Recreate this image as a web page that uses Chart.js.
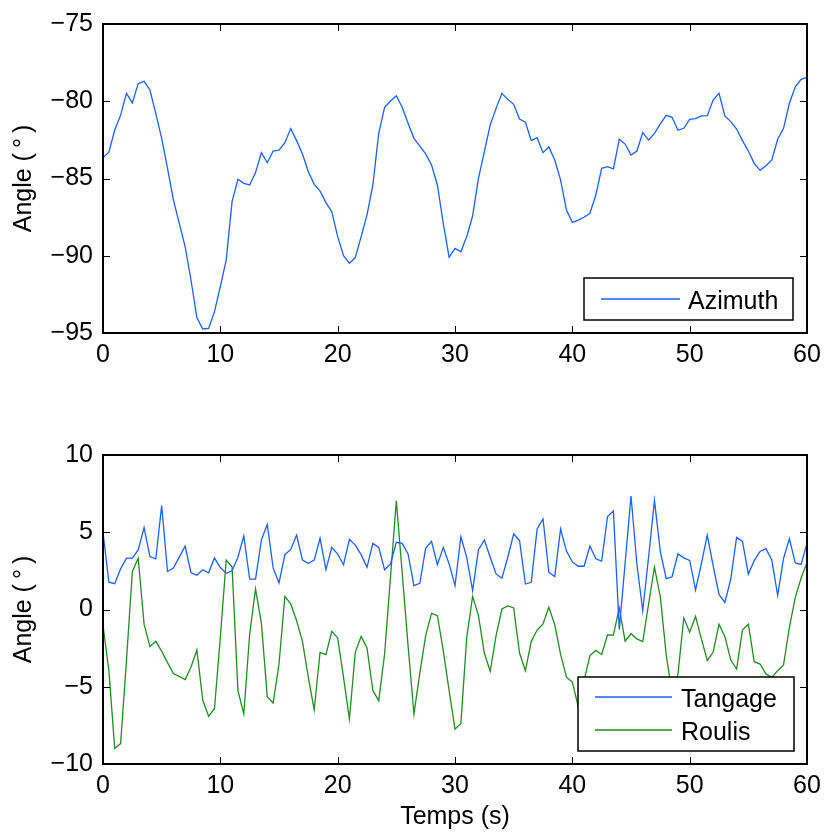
<!DOCTYPE html>
<html><head><meta charset="utf-8">
<script src="https://cdn.jsdelivr.net/npm/chart.js@4.4.0/dist/chart.umd.min.js"></script>
<style>
html,body{margin:0;padding:0;background:#fff;width:824px;height:832px;overflow:hidden}
.c{position:absolute;left:0;width:824px;height:416px}
</style></head><body>
<div class="c" style="top:0"><canvas id="top" width="824" height="416"></canvas></div>
<div class="c" style="top:416px"><canvas id="bot" width="824" height="416"></canvas></div>
<script>
// ---- DATA ----
const time = [0,0.5,1,1.5,2,2.5,3,3.5,4,4.5,5,5.5,6,6.5,7,7.5,8,8.5,9,9.5,
10,10.5,11,11.5,12,12.5,13,13.5,14,14.5,15,15.5,16,16.5,17,17.5,18,18.5,19,19.5,
20,20.5,21,21.5,22,22.5,23,23.5,24,24.5,25,25.5,26,26.5,27,27.5,28,28.5,29,29.5,
30,30.5,31,31.5,32,32.5,33,33.5,34,34.5,35,35.5,36,36.5,37,37.5,38,38.5,39,39.5,
40,40.5,41,41.5,42,42.5,43,43.5,44,44.5,45,45.5,46,46.5,47,47.5,48,48.5,49,49.5,
50,50.5,51,51.5,52,52.5,53,53.5,54,54.5,55,55.5,56,56.5,57,57.5,58,58.5,59,59.5,60];

const azimuth = [-83.65,-83.3,-81.86,-80.9,-79.49,-80.11,-78.86,-78.71,-79.27,-80.8,
-82.4,-84.34,-86.39,-87.9,-89.41,-91.57,-94.0,-94.74,-94.7,-93.62,
-92.0,-90.28,-86.5,-85.05,-85.31,-85.42,-84.62,-83.33,-83.98,-83.22,
-83.16,-82.68,-81.77,-82.55,-83.41,-84.56,-85.38,-85.81,-86.56,-87.15,
-88.76,-89.99,-90.49,-90.12,-88.76,-87.36,-85.42,-82.08,-80.39,-79.98,
-79.64,-80.39,-81.43,-82.4,-82.9,-83.41,-84.13,-85.42,-87.9,-90.1,
-89.52,-89.74,-88.76,-87.43,-84.99,-83.26,-81.54,-80.46,-79.49,-79.88,
-80.2,-81.15,-81.36,-82.55,-82.36,-83.33,-82.96,-83.8,-85.1,-87.04,
-87.84,-87.69,-87.51,-87.25,-86.07,-84.34,-84.23,-84.38,-82.46,-82.77,
-83.48,-83.22,-82.03,-82.51,-82.08,-81.47,-80.91,-81.04,-81.88,-81.75,
-81.17,-81.13,-80.95,-80.93,-79.92,-79.49,-80.95,-81.32,-81.8,-82.55,
-83.22,-84.02,-84.47,-84.17,-83.8,-82.46,-81.75,-80.13,-79.06,-78.58,-78.45];

const tangage = [5.0,1.77,1.67,2.63,3.32,3.33,3.86,5.3,3.43,3.28,
6.72,2.46,2.68,3.39,4.1,2.38,2.22,2.57,2.38,3.33,
2.72,2.34,2.51,3.38,4.76,1.97,1.97,4.5,5.51,2.69,
1.72,3.55,3.89,4.82,3.2,2.99,3.2,4.61,2.58,4.02,
3.59,2.9,4.54,4.17,3.55,2.73,4.28,4.02,2.56,2.95,
4.35,4.28,3.59,1.54,1.69,3.96,4.41,2.9,4.02,2.95,
1.54,4.7,3.38,1.22,3.87,4.5,3.38,2.3,2.02,3.38,
4.89,4.46,1.65,1.76,5.21,5.86,2.41,2.13,5.21,3.78,
3.08,2.8,2.8,4.1,3.28,3.14,6.02,6.38,-1.3,3.0,
7.35,2.96,-0.08,3.4,7.05,3.75,2.0,2.12,3.6,3.34,
3.18,1.27,2.97,4.82,2.84,0.98,0.46,1.97,4.67,4.41,
2.3,3.16,3.76,3.94,3.2,0.92,3.31,4.58,3.01,2.92,4.3];

const roulis = [-1.03,-3.94,-9.0,-8.68,-3.3,2.45,3.33,-0.95,-2.4,-2.06,
-2.7,-3.44,-4.14,-4.33,-4.53,-3.72,-2.62,-5.86,-6.9,-6.42,
-1.8,3.2,2.77,-5.25,-6.76,-1.59,1.33,-0.9,-5.64,-6.05,
-3.53,0.85,0.36,-0.72,-2.06,-4.39,-6.5,-2.77,-2.92,-1.41,
-1.84,-4.39,-7.09,-2.77,-1.74,-2.49,-5.25,-5.9,-2.88,2.08,
7.04,2.36,-2.34,-6.76,-4.13,-1.69,-0.25,-0.4,-2.66,-5.25,
-7.75,-7.37,-1.8,0.85,-0.4,-2.82,-4.0,-1.69,0.03,0.23,
0.1,-2.82,-3.96,-2.06,-1.33,-0.94,0.14,-0.98,-2.9,-4.38,
-4.7,-6.28,-4.6,-2.98,-2.65,-2.91,-1.64,-1.66,0.11,-2.05,
-1.57,-1.9,-2.07,0.37,2.74,0.8,-2.9,-5.5,-4.2,-0.54,
-1.47,-0.45,-1.9,-3.3,-2.77,-0.96,-1.74,-3.27,-3.85,-1.33,
-0.94,-3.38,-3.53,-4.17,-4.39,-3.96,-3.59,-1.15,0.79,2.04,3.05];

const xTickValues = [0,10,20,30,40,50,60];
const topYTicks = [-95,-90,-85,-80,-75];
const botYTicks = [-10,-5,0,5,10];
const labels = { azimuth:'Azimuth', tangage:'Tangage', roulis:'Roulis', x:'Temps (s)', y:'Angle (\u2009°\u2009)' };

// ---- STYLE ----
const FAMILY = "'Liberation Sans', Arial, Helvetica, sans-serif";
const FONT = {family: FAMILY, size: 25};
const BLUE = '#1c5fff', GREEN = '#228b22';

const fmt = v => String(v).replace('-', '\u2212');

const framePlugin = {
  id: 'frame',
  afterDatasetsDraw(chart, args, o) {
    const ctx = chart.ctx, a = chart.chartArea, xs = chart.scales.x, ys = chart.scales.y;
    ctx.save();
    ctx.strokeStyle = '#000';
    ctx.lineWidth = 1;
    ctx.beginPath();
    xs.ticks.forEach(t => {
      const p = Math.round(xs.getPixelForValue(t.value)) + 0.5;
      ctx.moveTo(p, a.bottom); ctx.lineTo(p, a.bottom - 7);
      ctx.moveTo(p, a.top); ctx.lineTo(p, a.top + 7);
    });
    ys.ticks.forEach(t => {
      const p = Math.round(ys.getPixelForValue(t.value)) + 0.5;
      ctx.moveTo(a.left, p); ctx.lineTo(a.left + 7, p);
      ctx.moveTo(a.right, p); ctx.lineTo(a.right - 7, p);
    });
    ctx.stroke();
    ctx.lineWidth = 2;
    ctx.strokeRect(a.left, a.top, a.right - a.left, a.bottom - a.top);
    const L = o.legend;
    ctx.fillStyle = '#fff';
    ctx.fillRect(L.x, L.y, L.w, L.h);
    ctx.lineWidth = 1.5;
    ctx.strokeStyle = '#000';
    ctx.strokeRect(L.x, L.y, L.w, L.h);
    chart.data.datasets.forEach((ds, i) => {
      const ly = L.rows[i];
      ctx.strokeStyle = ds.borderColor; ctx.lineWidth = ds.borderWidth;
      ctx.beginPath(); ctx.moveTo(L.x0, ly); ctx.lineTo(L.x1, ly); ctx.stroke();
      ctx.fillStyle = '#000';
      ctx.font = '25px ' + FAMILY;
      ctx.textBaseline = 'alphabetic';
      ctx.textAlign = 'left';
      ctx.fillText(ds.label, L.tx, ly + 10);
    });
    ctx.restore();
  }
};

function series(label, ys, color) {
  return {
    label, data: time.map((t, i) => ({x: t, y: ys[i]})),
    borderColor: color, borderWidth: 1.3, pointRadius: 0, tension: 0, fill: false
  };
}

function makeChart(id, datasets, yTicks, padTop, xHeight, xTitle, legend) {
  return new Chart(document.getElementById(id), {
    type: 'line',
    data: { datasets },
    plugins: [framePlugin],
    options: {
      responsive: false, animation: false, devicePixelRatio: 1,
      layout: { padding: { left: 0, top: padTop, right: 17, bottom: 0 } },
      plugins: { legend: { display: false }, tooltip: { enabled: false }, frame: { legend } },
      scales: {
        x: {
          type: 'linear', min: xTickValues[0], max: xTickValues[xTickValues.length - 1],
          afterBuildTicks: s => { s.ticks = xTickValues.map(v => ({value: v})); },
          afterFit: s => { s.height = xHeight; s.paddingLeft = 0; s.paddingRight = 0; },
          ticks: { font: FONT, color: '#000', padding: 7, maxRotation: 0, autoSkip: false, callback: v => fmt(v) },
          grid: { display: true, drawOnChartArea: false, drawTicks: false },
          border: { display: false },
          title: { display: !!xTitle, text: xTitle || '', font: FONT, color: '#000', padding: { top: 0, bottom: 0 } }
        },
        y: {
          type: 'linear', min: yTicks[0], max: yTicks[yTicks.length - 1],
          afterBuildTicks: s => { s.ticks = yTicks.map(v => ({value: v})); },
          afterFit: s => { s.width = 103; s.paddingTop = 0; s.paddingBottom = 0; },
          ticks: { font: FONT, color: '#000', padding: 10, autoSkip: false, callback: v => fmt(v) },
          grid: { display: true, drawOnChartArea: false, drawTicks: false },
          border: { display: false },
          title: { display: true, text: labels.y, font: FONT, color: '#000', padding: { top: 9, bottom: 0 } }
        }
      }
    }
  });
}

makeChart('top', [series(labels.azimuth, azimuth, BLUE)], topYTicks, 24, 83, null,
  { x: 584, y: 278, w: 209, h: 42, x0: 601, x1: 680, tx: 688, rows: [299] });
makeChart('bot', [series(labels.tangage, tangage, BLUE), series(labels.roulis, roulis, GREEN)], botYTicks, 39, 68, labels.x,
  { x: 578, y: 261, w: 216, h: 74, x0: 595, x1: 672, tx: 681, rows: [281, 314] });
</script>
</body></html>
